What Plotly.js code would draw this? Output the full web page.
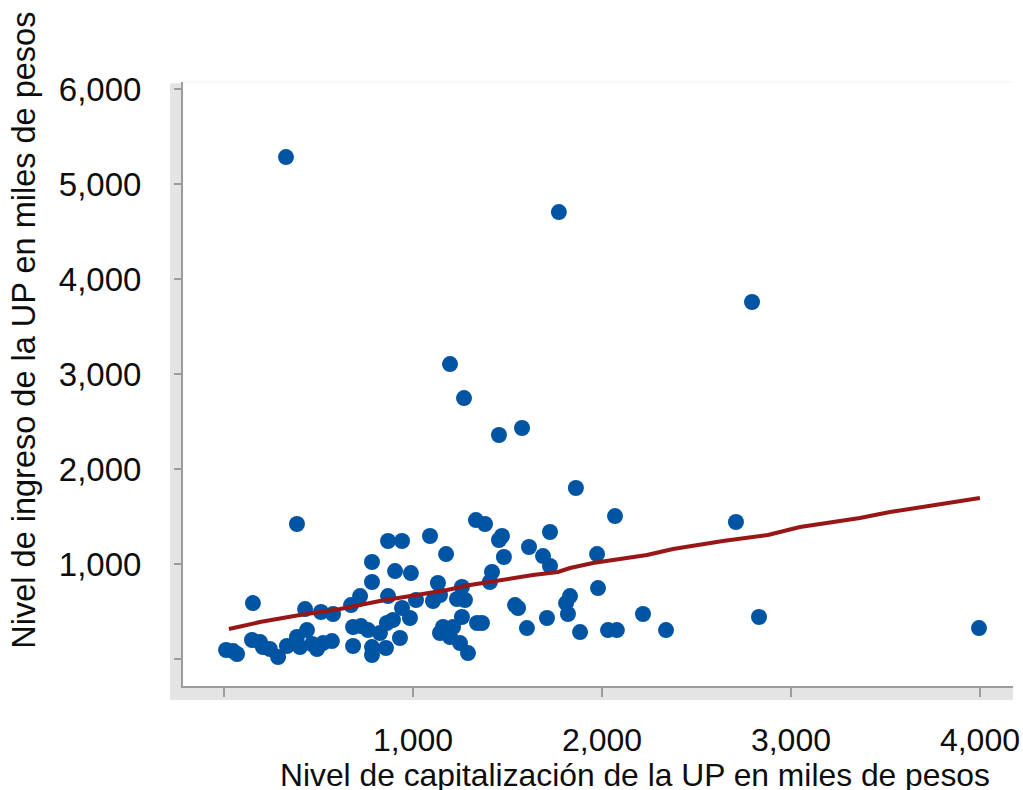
<!DOCTYPE html>
<html>
<head>
<meta charset="utf-8">
<script src="https://cdn.plot.ly/plotly-3.0.1.min.js"></script>
<style>html,body{margin:0;padding:0;background:#fff;}#chart{width:1023px;height:790px;}</style>
</head>
<body>
<div id="chart"></div>
<script>
// Capitalization (x) and income (y) in miles de pesos
const capitalizacion = [
  11, 48, 69, 153, 148, 190, 206, 243, 286, 333, 386, 402, 439, 466, 492, 524, 571, 386, 328,
  429, 513, 577, 672, 720, 783, 783, 683, 725, 683, 762, 783, 783, 825, 862, 857, 868, 942, 905, 989, 868, 894, 931, 942,
  1016, 984, 1090, 1175, 1132, 1106, 1143, 1159, 1180, 1143, 1212, 1196, 1233, 1259, 1275, 1259, 1249, 1291, 1339, 1365, 1333, 1381, 1196, 1270, 1455, 1418, 1407, 1471, 1455, 1481,
  1577, 1540, 1556, 1603, 1614, 1688, 1725, 1725, 1772, 1709, 1810, 1831, 1820, 1884, 1862, 1974, 1979, 2032, 2079, 2069, 2217, 2339,
  2709, 2794, 2831, 3995
];
const ingreso = [
  95, 84, 53, 589, 200, 179, 126, 105, 21, 137, 232, 126, 305, 158, 105, 168, 189, 1421, 5284,
  526, 495, 474, 568, 663, 1021, 811, 337, 347, 137, 305, 126, 42, 274, 379, 116, 1242, 1242, 926, 905, 663, 411, 221, 537,
  621, 432, 1295, 1105, 800, 611, 674, 337, 305, 274, 337, 232, 632, 758, 621, 442, 168, 63, 379, 379, 1463, 1421, 3105, 2747, 2358, 916, 811, 1295, 1253, 1074,
  2432, 568, 537, 326, 1179, 1084, 979, 1337, 4705, 432, 589, 663, 474, 284, 1800, 1105, 747, 305, 305, 1505, 474, 305,
  1442, 3758, 442, 326
];
// Fitted trend line
const tendenciaX = [26, 190, 402, 614, 825, 1000, 1180, 1302, 1460, 1635, 1767, 1831, 1952, 2079, 2238, 2376, 2640, 2878, 3048, 3365, 3524, 4000];
const tendenciaY = [316, 389, 463, 526, 611, 663, 726, 779, 832, 884, 916, 958, 1011, 1053, 1095, 1158, 1242, 1305, 1389, 1484, 1547, 1695];

const xTickVals = [0, 1000, 2000, 3000, 4000];
const xTickText = ['', '1,000', '2,000', '3,000', '4,000'];
const yTickVals = [0, 1000, 2000, 3000, 4000, 5000, 6000];
const yTickText = ['', '1,000', '2,000', '3,000', '4,000', '5,000', '6,000'];

const xTitle = 'Nivel de capitalización de la UP en miles de pesos';
const yTitle = 'Nivel de ingreso de la UP en miles de pesos';

const FONT = 'Liberation Sans, Arial, sans-serif';
const AX = '#9c9c9c';
const TXT = '#0d0d0d';

const traces = [
  {
    x: capitalizacion, y: ingreso, type: 'scatter', mode: 'markers',
    marker: {size: 16, color: '#0054a4', line: {width: 0}},
    hoverinfo: 'x+y', showlegend: false
  },
  {
    x: tendenciaX, y: tendenciaY, type: 'scatter', mode: 'lines',
    line: {color: '#981616', width: 4},
    showlegend: false
  }
];

const layout = {
  width: 1023, height: 790,
  margin: {l: 183, r: 10, t: 82, b: 104, pad: 0},
  paper_bgcolor: '#ffffff', plot_bgcolor: '#ffffff',
  font: {family: FONT, size: 33, color: TXT},
  showlegend: false,
  xaxis: {
    range: [-217, 4175], showgrid: false, zeroline: false,
    showline: true, linecolor: AX, linewidth: 2,
    ticks: 'outside', ticklen: 9, tickwidth: 2, tickcolor: AX,
    tickmode: 'array', tickvals: xTickVals, ticktext: xTickText,
    tickfont: {family: FONT, size: 32, color: TXT},
    ticklabelstandoff: 16
  },
  yaxis: {
    range: [-284, 6074], showgrid: false, zeroline: false,
    showline: true, linecolor: AX, linewidth: 2,
    ticks: 'outside', ticklen: 7, tickwidth: 2, tickcolor: AX,
    tickmode: 'array', tickvals: yTickVals, ticktext: yTickText,
    tickfont: {family: FONT, size: 33, color: TXT},
    ticklabelstandoff: 26
  },
  shapes: [
    {type: 'rect', xref: 'paper', yref: 'paper', x0: -0.0157, x1: 0, y0: -0.0232, y1: 0.998,
     fillcolor: '#e4e4e4', line: {width: 0}, layer: 'below'},
    {type: 'rect', xref: 'paper', yref: 'paper', x0: -0.0157, x1: 1, y0: -0.0232, y1: 0,
     fillcolor: '#e4e4e4', line: {width: 0}, layer: 'below'},
    {type: 'line', xref: 'paper', yref: 'paper', x0: 0, x1: 1, y0: 1, y1: 1,
     line: {color: '#f2f2f2', width: 1}, layer: 'below'}
  ],
  annotations: [
    {text: xTitle, xref: 'paper', yref: 'paper', x: 0.5446, y: -0.1475,
     xanchor: 'center', yanchor: 'middle', showarrow: false,
     font: {family: FONT, size: 31.8, color: TXT}},
    {text: yTitle, xref: 'paper', yref: 'paper', x: -0.191, y: 0.589, textangle: -90,
     xanchor: 'center', yanchor: 'middle', showarrow: false,
     font: {family: FONT, size: 32.5, color: TXT}}
  ]
};

Plotly.newPlot('chart', traces, layout, {displayModeBar: false, staticPlot: true});
</script>
</body>
</html>
